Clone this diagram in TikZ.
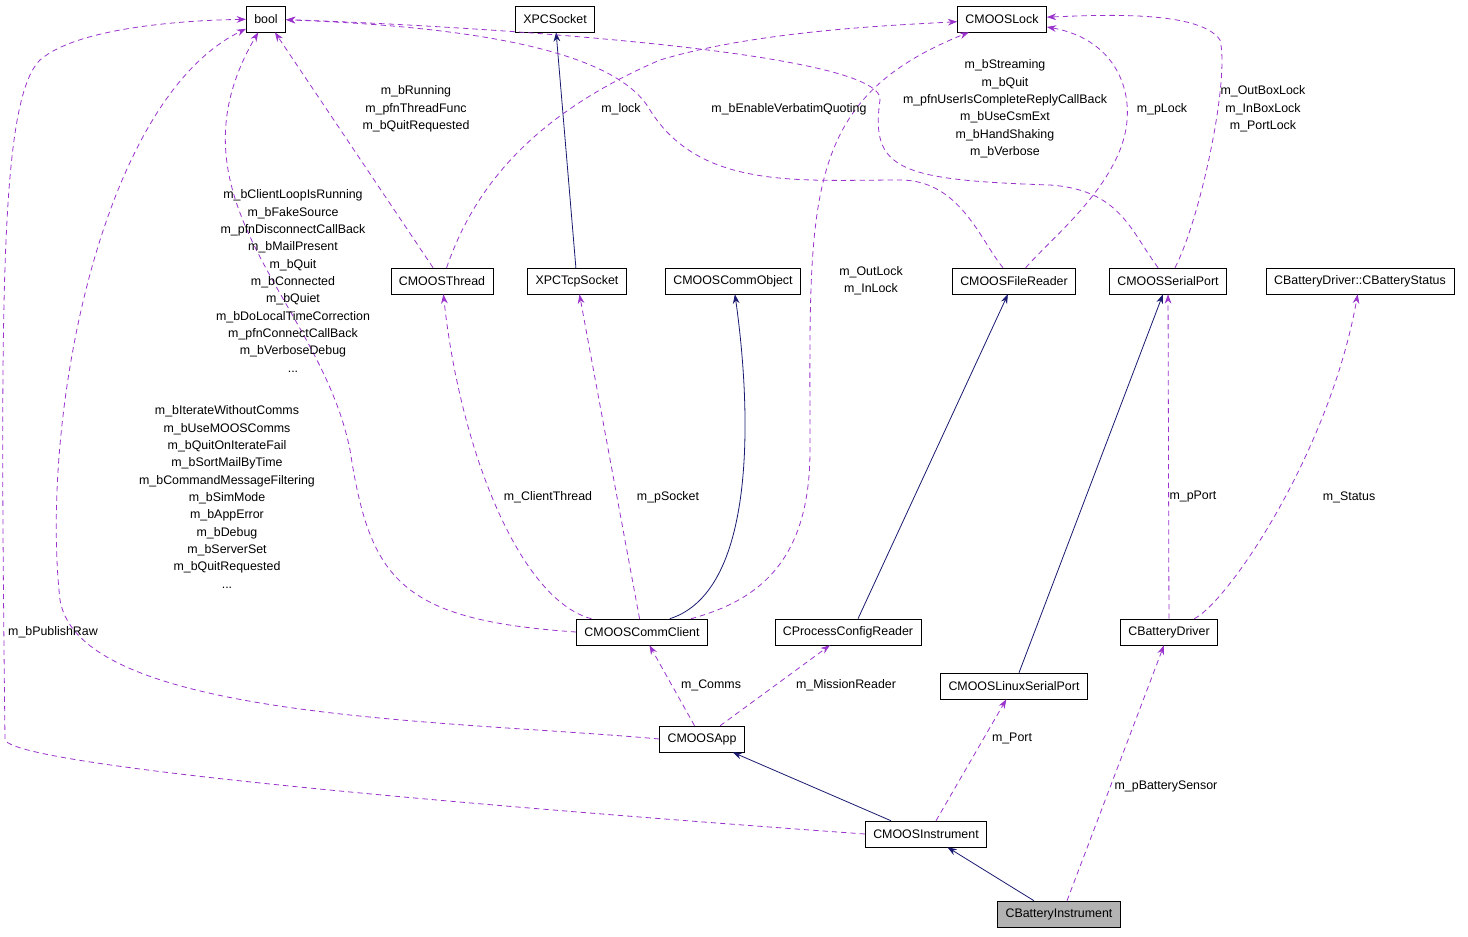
\documentclass[tikz,border=0pt]{standalone}
\usepackage{fontspec}
\setmainfont{Liberation Sans}
\usetikzlibrary{arrows.meta}
\definecolor{navyedge}{rgb}{0.1,0.1,0.44}
\definecolor{useedge}{rgb}{0.6,0.2,0.8}
\tikzset{
  cls/.style={draw,fill=white,inner xsep=6pt,inner ysep=0pt,minimum height=19.5pt,font=\fontsize{9.3}{11}\selectfont},
  inherit/.style={draw=navyedge,line width=0.6pt,-{Stealth[length=7pt,width=5pt,fill=navyedge]}},
  uses/.style={draw=useedge,line width=0.6pt,dash pattern=on 4pt off 3pt,-{Stealth[length=7pt,width=5pt,fill=useedge]}},
  lbl/.style={align=center,inner sep=0pt,font=\fontsize{9.3}{13}\selectfont},
}
\begin{document}
\begin{tikzpicture}[x=0.75pt,y=0.75pt,yscale=-1]
\useasboundingbox (0,0) rectangle (1468,936);

% classes
\node[cls] (bool) at (266,19) {bool};
\node[cls] (xpcsock) at (555,19) {XPCSocket};
\node[cls] (lock) at (1002,19) {CMOOSLock};
\node[cls] (thread) at (442,281) {CMOOSThread};
\node[cls] (tcpsock) at (577,281) {XPCTcpSocket};
\node[cls] (commobj) at (733,281) {CMOOSCommObject};
\node[cls] (filerd) at (1014,281) {CMOOSFileReader};
\node[cls] (serial) at (1168,281) {CMOOSSerialPort};
\node[cls] (status) at (1360,281) {CBatteryDriver::CBatteryStatus};
\node[cls] (client) at (642,632) {CMOOSCommClient};
\node[cls] (cfgrd) at (848,632) {CProcessConfigReader};
\node[cls] (driver) at (1169,632) {CBatteryDriver};
\node[cls] (linux) at (1014,686) {CMOOSLinuxSerialPort};
\node[cls] (app) at (702,739) {CMOOSApp};
\node[cls] (instr) at (926,834) {CMOOSInstrument};
\node[cls,fill=black!30] (batt) at (1059,914) {CBatteryInstrument};

% inheritance
\draw[inherit] (tcpsock) -- (xpcsock);
\draw[inherit] (client.north east) ++(-38,0) coordinate (c1) .. controls (760,590) and (750,400) .. (commobj);
\draw[inherit] (cfgrd.north) ++(10,0) -- (filerd);
\draw[inherit] (linux.north) ++(5,0) -- (serial);
\draw[inherit] (instr.north) ++(-35,0) -- (app);
\draw[inherit] (batt.north) ++(-25,0) -- (instr);

% members
\draw[uses] (thread) -- (bool);
\draw[uses] (thread) .. controls (470,200) and (520,120) .. (660,60) .. controls (760,30) and (900,25) .. (lock);
\draw[uses] (filerd) .. controls (980,240) and (960,180) .. (900,180)
  .. controls (800,180) and (700,190) .. (650,110) .. controls (610,40) and (420,25) .. (bool);
\draw[uses] (filerd) .. controls (1050,240) and (1100,200) .. (1120,150) .. controls (1140,100) and (1120,40) .. (lock);
\draw[uses] (serial) .. controls (1130,230) and (1120,190) .. (1050,185)
  .. controls (900,180) and (870,170) .. (880,100) .. controls (885,50) and (450,25) .. (bool);
\draw[uses] (serial) .. controls (1200,220) and (1230,80) .. (1220,40) .. controls (1200,10) and (1100,15) .. (lock);
\draw[uses] (client.west) .. controls (400,620) and (370,580) .. (350,450) .. controls (320,300) and (160,200) .. (bool);
\draw[uses] (client) .. controls (520,600) and (460,450) .. (thread);
\draw[uses] (client) -- (tcpsock);
\draw[uses] (client) .. controls (760,600) and (810,560) .. (810,450) .. controls (810,200) and (800,100) .. (lock);
\draw[uses] (driver) -- (serial);
\draw[uses] (driver) .. controls (1230,600) and (1330,450) .. (status);
\draw[uses] (app.west) .. controls (450,720) and (80,720) .. (60,600) .. controls (40,420) and (100,100) .. (bool);
\draw[uses] (app) -- (client);
\draw[uses] (app) -- (cfgrd);
\draw[uses] (instr.west) .. controls (600,815) and (20,770) .. (5,740) .. controls (0,300) and (0,100) .. (40,60) .. controls (80,25) and (200,20) .. (bool);
\draw[uses] (instr.north) ++(10,0) -- (linux);
\draw[uses] (batt.north) ++(8,0) -- (driver);

% labels
\node[lbl] (lbthread) at (416,109) {m\_bRunning\\m\_pfnThreadFunc\\m\_bQuitRequested};
\node[lbl] (lblock) at (621,109) {m\_lock};
\node[lbl] (lbverb) at (789,109) {m\_bEnableVerbatimQuoting};
\node[lbl] (lbserial) at (1005,109) {m\_bStreaming\\m\_bQuit\\m\_pfnUserIsCompleteReplyCallBack\\m\_bUseCsmExt\\m\_bHandShaking\\m\_bVerbose};
\node[lbl] (lbplock) at (1162,109) {m\_pLock};
\node[lbl] (lbboxes) at (1263,109) {m\_OutBoxLock\\m\_InBoxLock\\m\_PortLock};
\node[lbl] (lbclient) at (293,281) {m\_bClientLoopIsRunning\\m\_bFakeSource\\m\_pfnDisconnectCallBack\\m\_bMailPresent\\m\_bQuit\\m\_bConnected\\m\_bQuiet\\m\_bDoLocalTimeCorrection\\m\_pfnConnectCallBack\\m\_bVerboseDebug\\...};
\node[lbl] (lbinout) at (871,281) {m\_OutLock\\m\_InLock};
\node[lbl] (lbapp) at (227,497) {m\_bIterateWithoutComms\\m\_bUseMOOSComms\\m\_bQuitOnIterateFail\\m\_bSortMailByTime\\m\_bCommandMessageFiltering\\m\_bSimMode\\m\_bAppError\\m\_bDebug\\m\_bServerSet\\m\_bQuitRequested\\...};
\node[lbl] (lbcthread) at (548,497) {m\_ClientThread};
\node[lbl] (lbsock) at (668,497) {m\_pSocket};
\node[lbl] (lbport) at (1193,497) {m\_pPort};
\node[lbl] (lbstatus) at (1349,497) {m\_Status};
\node[lbl] (lbraw) at (53,632) {m\_bPublishRaw};
\node[lbl] (lbcomms) at (711,685) {m\_Comms};
\node[lbl] (lbmission) at (846,685) {m\_MissionReader};
\node[lbl] (lbmport) at (1012,738) {m\_Port};
\node[lbl] (lbsensor) at (1166,786) {m\_pBatterySensor};
\end{tikzpicture}
\end{document}
